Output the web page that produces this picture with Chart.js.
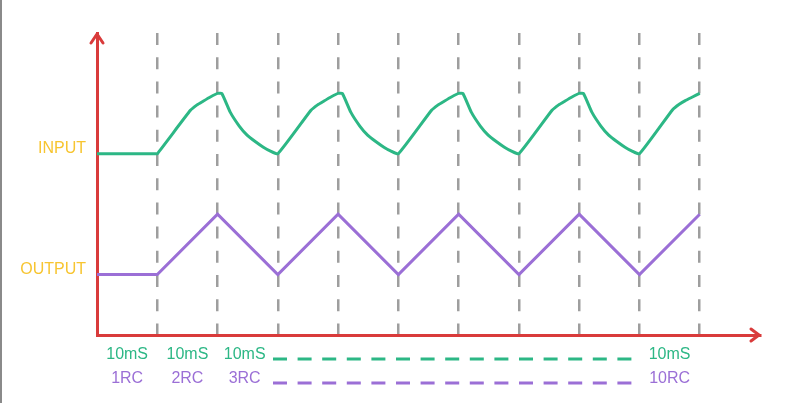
<!DOCTYPE html>
<html lang="en">
<head>
    <meta charset="UTF-8">
    <title>RC Input / Output</title>
    <script src="https://cdn.jsdelivr.net/npm/chart.js@4"></script>
    <style>
        body { margin: 0; background: #fff; }
        #wrap { position: relative; width: 790px; height: 403px; }
        #frame { position: absolute; left: 0; top: 0; bottom: 0; width: 2px; background: #8a8a8a; }
    </style>
</head>
<body>
<div id="wrap">
    <canvas id="chart" width="790" height="403"></canvas>
    <div id="frame"></div>
</div>

<script>
// input waveform
const inputX = [0, 0.97, 1, 1.55, 1.66, 1.76, 1.88, 2, 2.07, 2.21, 2.36, 2.49, 2.63, 2.76, 2.87, 3,
                3.55, 3.66, 3.76, 3.88, 4, 4.07, 4.21, 4.36, 4.49, 4.63, 4.76, 4.87, 5,
                5.55, 5.66, 5.76, 5.88, 6, 6.07, 6.21, 6.36, 6.49, 6.63, 6.76, 6.87, 7,
                7.55, 7.66, 7.76, 7.88, 8, 8.07, 8.21, 8.36, 8.49, 8.63, 8.76, 8.87, 9,
                9.55, 9.66, 9.76, 9.88, 10];
const inputY = [3, 3, 3, 3.72, 3.81, 3.87, 3.94, 4, 4, 3.69, 3.46, 3.31, 3.2, 3.11, 3.05, 3,
                3.72, 3.81, 3.87, 3.94, 4, 4, 3.69, 3.46, 3.31, 3.2, 3.11, 3.05, 3,
                3.72, 3.81, 3.87, 3.94, 4, 4, 3.69, 3.46, 3.31, 3.2, 3.11, 3.05, 3,
                3.72, 3.81, 3.87, 3.94, 4, 4, 3.69, 3.46, 3.31, 3.2, 3.11, 3.05, 3,
                3.73, 3.82, 3.88, 3.94, 4];

// output waveform
const outputX = [0, 1, 2, 3, 4, 5, 6, 7, 8, 9, 10];
const outputY = [1, 1, 2, 1, 2, 1, 2, 1, 2, 1, 2];

// axis labels
const yLabelValues = [1, 3];
const yLabels = ['OUTPUT', 'INPUT'];
const bottomPos = [0.5, 1.5, 2.45, 9.5];
const timeLabels = ['10mS', '10mS', '10mS', '10mS'];
const rcLabels = ['1RC', '2RC', '3RC', '10RC'];
const gapFrom = 2.92, gapTo = 8.92;

const GREEN = '#2cb785';
const PURPLE = '#9b6fd6';
const RED = '#d93b3b';
const YELLOW = '#f7c531';
const GRAY = '#9e9e9e';
const FONT = '"Liberation Sans", Arial, sans-serif';

const toPoints = (xs, ys) => xs.map((x, i) => ({ x: x, y: ys[i] }));

// arrows on the axes + bottom labels
const decorations = {
    id: 'decorations',
    afterDraw(chart) {
        const ctx = chart.ctx;
        const a = chart.chartArea;
        const xs = chart.scales.x;
        ctx.save();
        ctx.strokeStyle = RED;
        ctx.lineWidth = 3;
        ctx.lineCap = 'round';
        ctx.lineJoin = 'round';
        // up arrow
        ctx.beginPath();
        ctx.moveTo(a.left - 6, a.top + 10);
        ctx.lineTo(a.left, a.top + 1);
        ctx.lineTo(a.left + 6, a.top + 10);
        ctx.stroke();
        // right arrow
        ctx.beginPath();
        ctx.moveTo(a.right - 9, a.bottom - 6);
        ctx.lineTo(a.right - 1, a.bottom);
        ctx.lineTo(a.right - 9, a.bottom + 6);
        ctx.stroke();

        ctx.font = '16px ' + FONT;
        ctx.textAlign = 'center';
        ctx.textBaseline = 'middle';
        bottomPos.forEach((v, i) => {
            const px = xs.getPixelForValue(v);
            ctx.fillStyle = GREEN;
            ctx.fillText(timeLabels[i], px, a.bottom + 20);
            ctx.fillStyle = PURPLE;
            ctx.fillText(rcLabels[i], px, a.bottom + 44);
        });

        ctx.lineCap = 'butt';
        ctx.setLineDash([14, 10.6]);
        ctx.beginPath();
        ctx.strokeStyle = GREEN;
        ctx.moveTo(xs.getPixelForValue(gapFrom), a.bottom + 24);
        ctx.lineTo(xs.getPixelForValue(gapTo), a.bottom + 24);
        ctx.stroke();
        ctx.beginPath();
        ctx.strokeStyle = PURPLE;
        ctx.moveTo(xs.getPixelForValue(gapFrom), a.bottom + 48);
        ctx.lineTo(xs.getPixelForValue(gapTo), a.bottom + 48);
        ctx.stroke();
        ctx.restore();
    }
};

new Chart(document.getElementById('chart'), {
    type: 'scatter',
    data: {
        datasets: [{
            label: 'Input',
            data: toPoints(inputX, inputY),
            showLine: true,
            borderColor: GREEN,
            borderWidth: 3,
            borderJoinStyle: 'round',
            pointRadius: 0,
            tension: 0.15
        }, {
            label: 'Output',
            data: toPoints(outputX, outputY),
            showLine: true,
            borderColor: PURPLE,
            borderWidth: 3,
            pointRadius: 0,
            tension: 0
        }]
    },
    options: {
        responsive: false,
        animation: false,
        layout: { padding: { top: 33, right: 30, left: 0, bottom: 0 } },
        plugins: { legend: { display: false }, tooltip: { enabled: false } },
        scales: {
            x: {
                type: 'linear',
                min: 0,
                max: 11,
                ticks: { display: false, stepSize: 1 },
                grid: {
                    drawTicks: false,
                    lineWidth: 2.5,
                    color: c => (c.tick && c.tick.value >= 1 && c.tick.value <= 10) ? GRAY : 'rgba(0,0,0,0)'
                },
                border: { color: RED, width: 3, dash: [12, 12.2] },
                afterFit: s => { s.height = 68; }
            },
            y: {
                min: 0,
                max: 5,
                afterBuildTicks: s => { s.ticks = yLabelValues.map(v => ({ value: v })); },
                ticks: {
                    color: YELLOW,
                    font: { family: FONT, size: 16 },
                    padding: 11,
                    labelOffset: -5,
                    callback: v => yLabels[yLabelValues.indexOf(v)]
                },
                grid: { display: false, drawTicks: false },
                border: { color: RED, width: 3 },
                afterFit: s => { s.width = 97; }
            }
        }
    },
    plugins: [decorations]
});
</script>
</body>
</html>
